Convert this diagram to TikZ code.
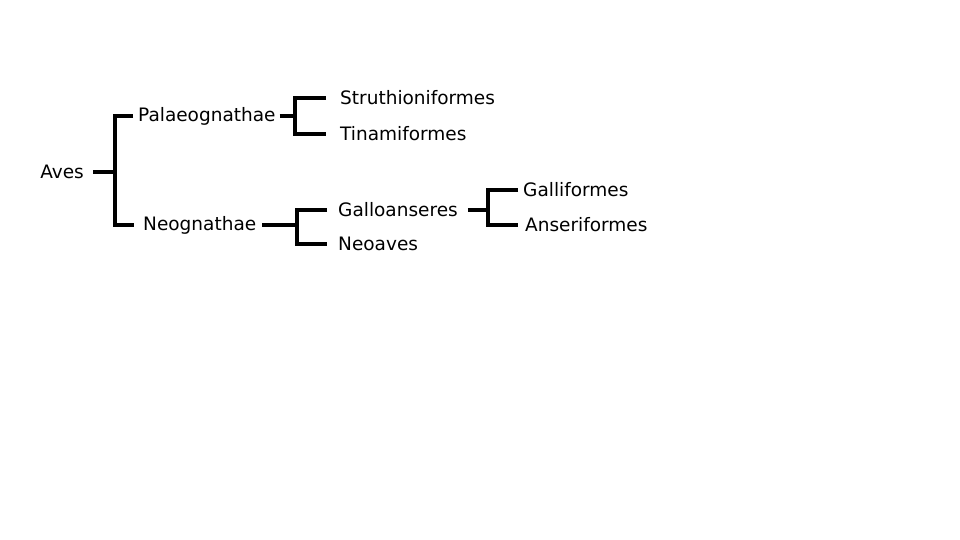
\documentclass[tikz,border=0pt]{standalone}
\usepackage{fontspec}
\setmainfont{DejaVu Sans}
\usepackage{tikz}
\tikzset{
  taxon/.style={font=\fontsize{18.5}{20}\selectfont, inner sep=0pt},
  branch/.style={line width=3.2pt}
}

\begin{document}
\begin{tikzpicture}[x=1pt, y=-1pt]
        \useasboundingbox[fill=white] (0,0) rectangle (960,540);
        % Labels
        \node[taxon, anchor=east] (aves) at (84,172) {Aves};
        \node[taxon, anchor=west] (pal) at (138,116) {Palaeognathae};
        \node[taxon, anchor=west] (neo) at (143,225) {Neognathae};
        \node[taxon, anchor=west] (stru) at (340,98) {Struthioniformes};
        \node[taxon, anchor=west] (tina) at (340,134) {Tinamiformes};
        \node[taxon, anchor=west] (gallo) at (338,210) {Galloanseres};
        \node[taxon, anchor=west] (neoav) at (338,244) {Neoaves};
        \node[taxon, anchor=west] (galli) at (523,190) {Galliformes};
        \node[taxon, anchor=west] (anser) at (525,225) {Anseriformes};
        % Branch points
        \coordinate (jA) at (115,172);
        \coordinate (jB) at (295,116);
        \coordinate (jC) at (297,225);
        \coordinate (jD) at (488,210);
        % Brackets
        \draw[branch] ([xshift=9pt]aves.east) -- (jA);
        \draw[branch] ([xshift=-5pt]pal.west) -| (jA) |- ([xshift=-9pt]neo.west);
        \draw[branch] ([xshift=4pt]pal.east) -- (jB);
        \draw[branch] ([xshift=-14pt]stru.west) -| (jB) |- ([xshift=-14pt]tina.west);
        \draw[branch] ([xshift=6pt]neo.east) -- (jC);
        \draw[branch] ([xshift=-11pt]gallo.west) -| (jC) |- ([xshift=-11pt]neoav.west);
        \draw[branch] ([xshift=10pt]gallo.east) -- (jD);
        \draw[branch] ([xshift=-5pt]galli.west) -| (jD) |- ([xshift=-7pt]anser.west);
\end{tikzpicture}
\end{document}
